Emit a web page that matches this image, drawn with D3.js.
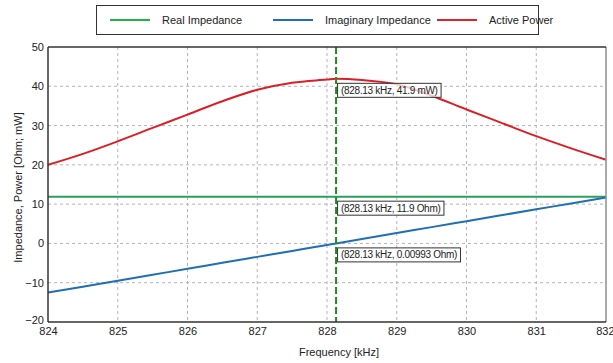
<!DOCTYPE html>
<html>
<head>
<meta charset="utf-8">
<script src="https://cdn.jsdelivr.net/npm/d3@7"></script>
<style>
  body { margin: 0; background: #fff; }
  text { font-family: "Liberation Sans", Arial, sans-serif; }
</style>
</head>
<body>
<div id="chart"></div>
<script>
// values
var freqs = [824, 824.5, 825, 825.5, 826, 826.5, 827, 827.5, 828, 828.13, 828.5, 829, 829.5, 830, 830.5, 831, 831.5, 832];
var realImp = [11.9, 11.9, 11.9, 11.9, 11.9, 11.9, 11.9, 11.9, 11.9, 11.9, 11.9, 11.9, 11.9, 11.9, 11.9, 11.9, 11.9, 11.9];
var imagImp = [-12.5, -11.0, -9.5, -7.98, -6.45, -4.94, -3.42, -1.9, -0.39, 0.00993, 1.12, 2.63, 4.15, 5.66, 7.17, 8.68, 10.19, 11.7];
var activePower = [20.0, 22.8, 26.0, 29.4, 32.8, 36.2, 39.1, 40.9, 41.7, 41.9, 41.6, 40.5, 37.6, 34.1, 30.7, 27.3, 24.2, 21.3];

var xTicks = [824, 825, 826, 827, 828, 829, 830, 831, 832];
var yTicks = [-20, -10, 0, 10, 20, 30, 40, 50];

var cursorFreq = 828.13;
var cursorLabels = [
  {value: 41.9, text: "(828.13 kHz, 41.9 mW)"},
  {value: 11.9, text: "(828.13 kHz, 11.9 Ohm)"},
  {value: 0.00993, text: "(828.13 kHz, 0.00993 Ohm)"}
];

var seriesNames = ["Real Impedance", "Imaginary Impedance", "Active Power"];
var seriesColors = ["#2e9e5e", "#1f6fb5", "#dc1f26"];
var legendColors = ["#22b04c", "#1f6fc0", "#e0202a"];

var W = 613, H = 363;
var margin = {top: 47, right: 7, bottom: 41, left: 48};
var width = W - margin.left - margin.right,
    height = H - margin.top - margin.bottom;

var svg = d3.select("#chart").append("svg")
  .attr("width", W)
  .attr("height", H);

var g = svg.append("g")
  .attr("transform", "translate(" + margin.left + "," + margin.top + ")");

var x = d3.scaleLinear().domain([824, 832]).range([0, width]);
var y = d3.scaleLinear().domain([-20, 50]).range([height, 0]);

// grid
g.append("g")
  .selectAll("line")
  .data(xTicks.slice(1, -1))
  .enter().append("line")
  .attr("x1", d => x(d)).attr("x2", d => x(d))
  .attr("y1", 0).attr("y2", height)
  .attr("stroke", "#b4b4b4")
  .attr("stroke-dasharray", "3,3");

g.append("g")
  .selectAll("line")
  .data(yTicks.slice(1, -1))
  .enter().append("line")
  .attr("x1", 0).attr("x2", width)
  .attr("y1", d => y(d)).attr("y2", d => y(d))
  .attr("stroke", "#b4b4b4")
  .attr("stroke-dasharray", "3,3");

// series
var allSeries = [realImp, imagImp, activePower];
allSeries.forEach(function (vals, i) {
  var line = d3.line()
    .x(function (d, j) { return x(freqs[j]); })
    .y(function (d) { return y(d); })
    .curve(d3.curveMonotoneX);
  g.append("path")
    .datum(vals)
    .attr("fill", "none")
    .attr("stroke", seriesColors[i])
    .attr("stroke-width", 2)
    .attr("d", line);
});

// cursor line
g.append("line")
  .attr("x1", x(cursorFreq)).attr("x2", x(cursorFreq))
  .attr("y1", 0).attr("y2", height)
  .attr("stroke", "#1e8c1e")
  .attr("stroke-width", 2)
  .attr("stroke-dasharray", "7,3");

// cursor labels
cursorLabels.forEach(function (c) {
  var lg = g.append("g")
    .attr("transform", "translate(" + (x(cursorFreq) + 1) + "," + (y(c.value) + 4) + ")");
  var rect = lg.append("rect")
    .attr("fill", "#fff")
    .attr("fill-opacity", 0.75)
    .attr("stroke", "#333")
    .attr("stroke-width", 1);
  var t = lg.append("text")
    .attr("x", 4).attr("y", 11)
    .attr("font-size", "10px")
    .attr("letter-spacing", "-0.3px")
    .attr("fill", "#222")
    .text(c.text);
  var w = t.node().getComputedTextLength();
  rect.attr("x", 0.5).attr("y", 0.5).attr("width", w + 7).attr("height", 14);
});

// frame
g.append("line").attr("x1", width).attr("x2", width).attr("y1", 0).attr("y2", height)
  .attr("stroke", "#8c8c8c").attr("stroke-width", 1.5);
g.append("line").attr("x1", 0).attr("x2", width).attr("y1", 0).attr("y2", 0)
  .attr("stroke", "#333").attr("stroke-width", 1.5);
g.append("line").attr("x1", 0).attr("x2", width).attr("y1", height).attr("y2", height)
  .attr("stroke", "#333").attr("stroke-width", 1.5);
g.append("line").attr("x1", 0).attr("x2", 0).attr("y1", 0).attr("y2", height)
  .attr("stroke", "#333").attr("stroke-width", 1.5);

// axes
var xAxis = d3.axisBottom(x).tickValues(xTicks).tickSize(0).tickPadding(5).tickFormat(d3.format("d"));
var yAxis = d3.axisLeft(y).tickValues(yTicks).tickSize(0).tickPadding(4).tickFormat(d3.format("d"));

var gx = g.append("g").attr("transform", "translate(0," + height + ")").call(xAxis);
gx.select(".domain").remove();
gx.selectAll("text").attr("font-size", "11px").attr("fill", "#222").attr("font-family", null);
// keep the last label inside the window
gx.selectAll("text").filter(d => d === 832).attr("text-anchor", "end").attr("dx", "8px");

var gy = g.append("g").call(yAxis);
gy.select(".domain").remove();
gy.selectAll("text").attr("font-size", "11px").attr("fill", "#222").attr("font-family", null);
gy.selectAll("text").filter(d => d === -20).attr("dy", "0.1em");

// axis titles
svg.append("text")
  .attr("x", margin.left + width / 2 + 12)
  .attr("y", 356)
  .attr("text-anchor", "middle")
  .attr("font-size", "11px")
  .attr("fill", "#222")
  .text("Frequency [kHz]");

svg.append("text")
  .attr("transform", "translate(22," + (margin.top + height / 2 + 3) + ") rotate(-90)")
  .attr("text-anchor", "middle")
  .attr("font-size", "11px")
  .attr("fill", "#222")
  .text("Impedance, Power [Ohm; mW]");

// legend
var legend = svg.append("g");
legend.append("rect")
  .attr("x", 96.5).attr("y", 5.5)
  .attr("width", 442).attr("height", 29)
  .attr("fill", "#fff")
  .attr("stroke", "#333");

var legendX = [110, 273, 437];
seriesNames.forEach(function (name, i) {
  legend.append("line")
    .attr("x1", legendX[i]).attr("x2", legendX[i] + 40)
    .attr("y1", 20).attr("y2", 20)
    .attr("stroke", legendColors[i])
    .attr("stroke-width", 2);
  legend.append("text")
    .attr("x", legendX[i] + 52)
    .attr("y", 24)
    .attr("font-size", "11px")
    .attr("fill", "#222")
    .text(name);
});
</script>
</body>
</html>
